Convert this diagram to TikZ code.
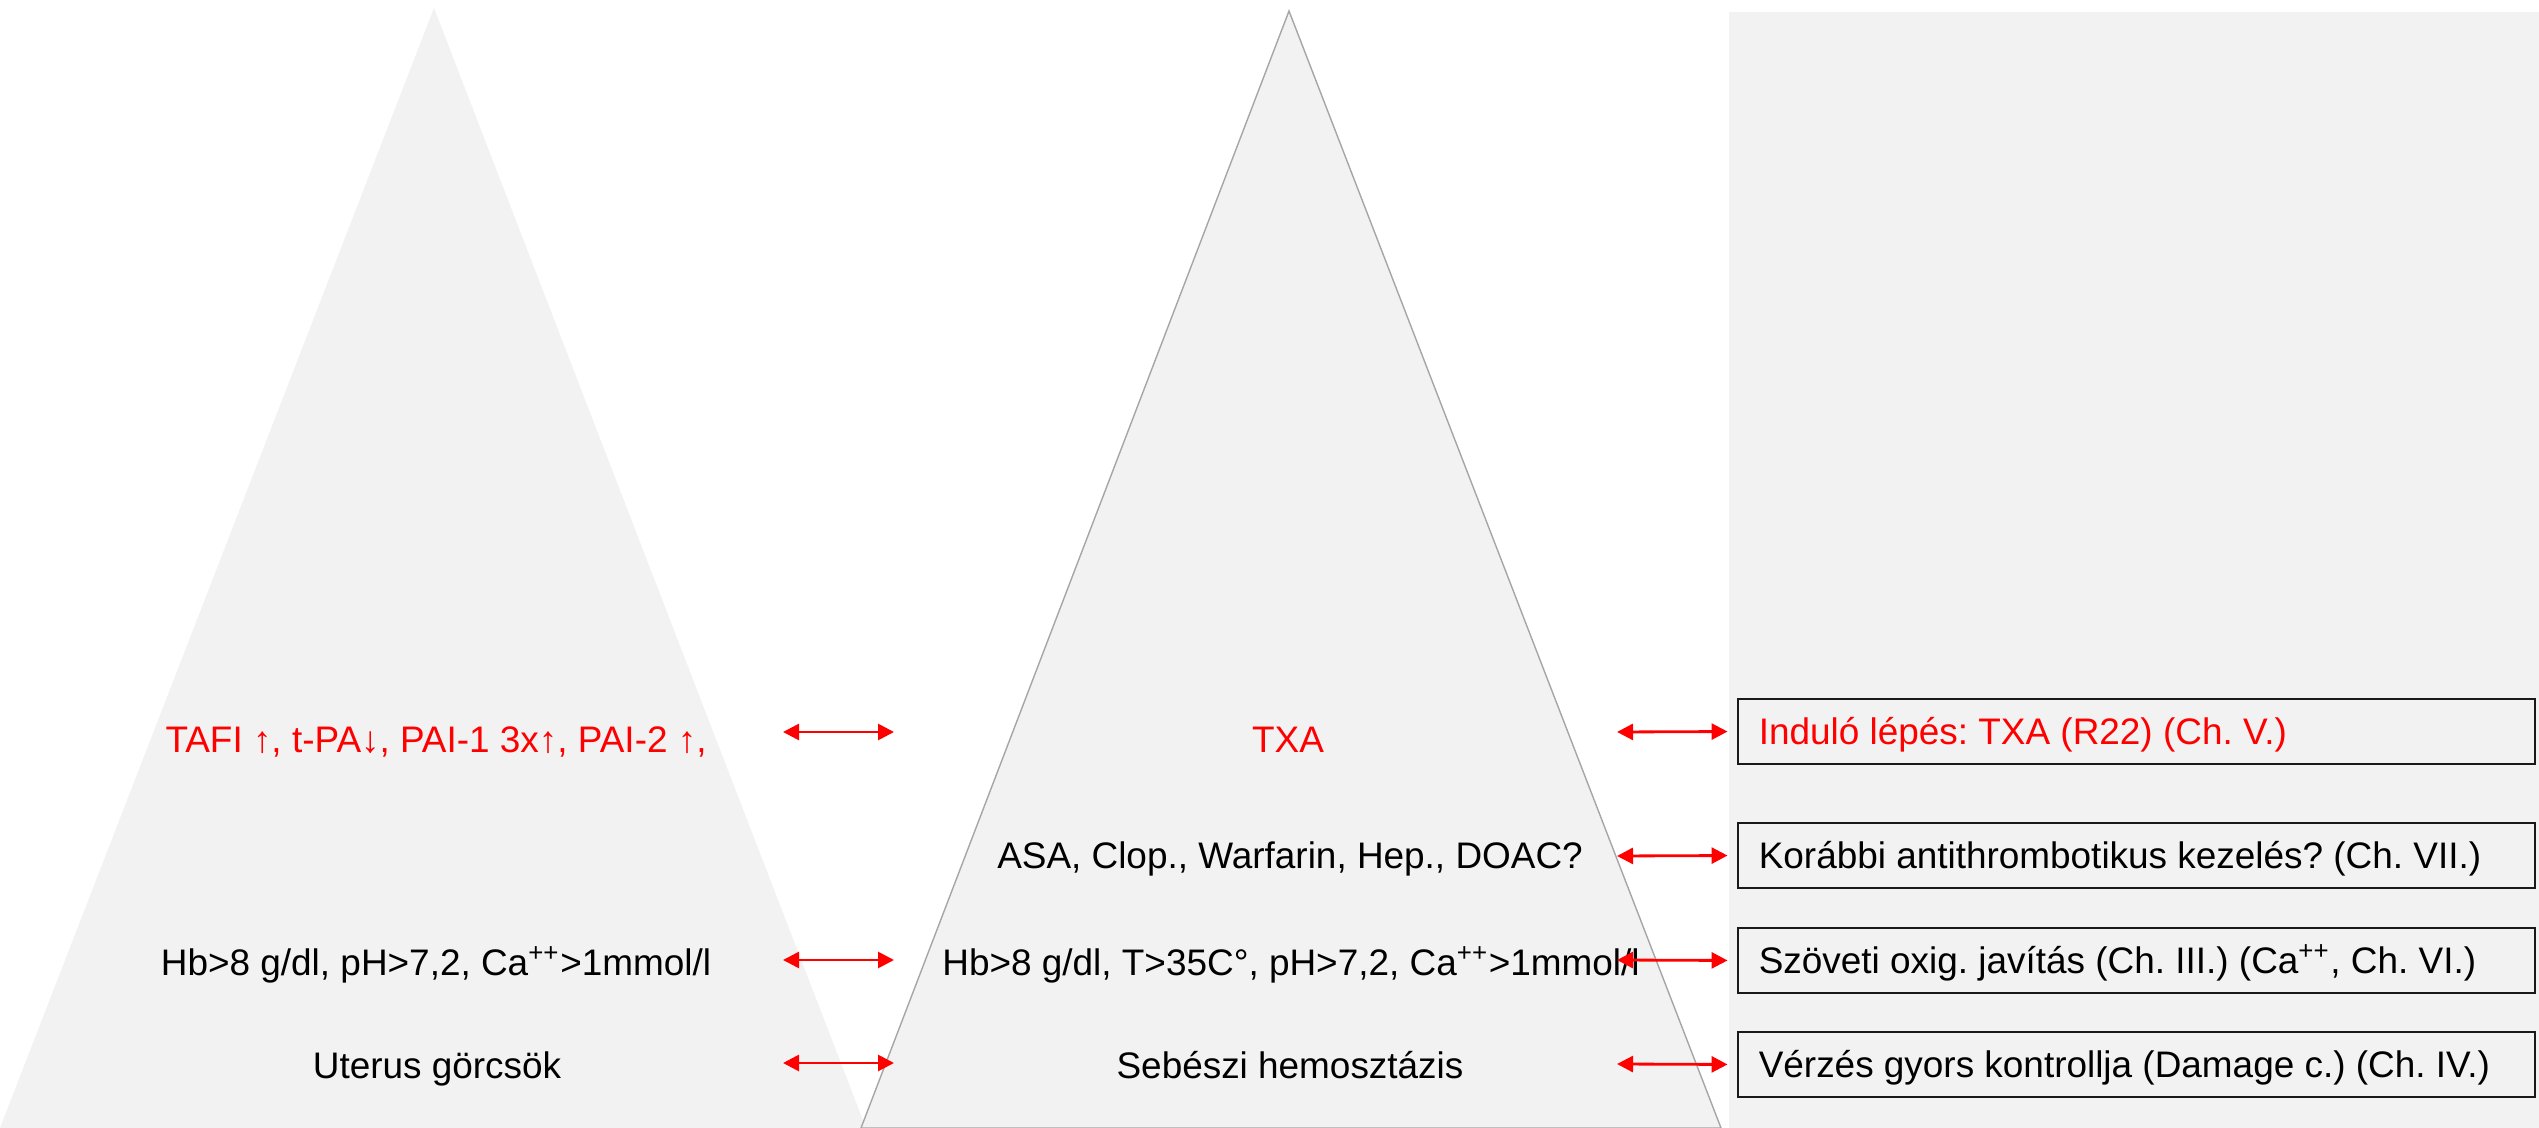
\documentclass[tikz,border=0pt]{standalone}
\usepackage{fontspec}
\setmainfont{Liberation Sans}
\usetikzlibrary{arrows.meta}
\definecolor{panel}{HTML}{F2F2F2}
\definecolor{edgegray}{HTML}{A6A6A6}
\definecolor{alarm}{HTML}{FF0000}
\newcommand{\boxline}[1]{\makebox[7.55cm][l]{#1}}
\begin{document}
\frenchspacing
\begin{tikzpicture}[x=0.01cm,y=-0.01cm,
  lbl/.style={anchor=base, inner sep=0pt, font=\fontsize{10.5}{12.6}\selectfont},
  hot/.style={text=alarm},
  stepbox/.style={draw=black!90, line width=0.7pt, minimum width=7.97cm,
    minimum height=0.65cm, inner xsep=0.21cm,
    inner ysep=0pt, text height=0.265cm, text depth=0cm,
    font=\fontsize{10.5}{12.6}\selectfont},
  link/.style={alarm, line width=0.8pt,
    {Triangle[length=0.16cm,width=0.16cm]}-{Triangle[length=0.16cm,width=0.16cm]}}
]
\useasboundingbox (0,0) rectangle (2539,1128);

% background panels
\fill[panel] (1729,12) rectangle (2539,1128);
\fill[panel] (434,8) -- (866,1128) -- (0,1128) -- cycle;
\filldraw[fill=panel, draw=edgegray, line width=0.4pt]
  (1289,11) -- (1721,1128) -- (861,1128) -- cycle;

% left pyramid
\node[lbl,hot] (tafi) at (436,752) {TAFI ↑, t-PA↓, PAI-1 3x↑, PAI-2 ↑,};
\node[lbl] (hbl) at (436,975) {Hb>8 g/dl, pH>7,2, Ca\textsuperscript{++}>1mmol/l};
\node[lbl] (uter) at (437,1078) {Uterus görcsök};

% middle pyramid
\node[lbl,hot] (txa) at (1288,752) {TXA};
\node[lbl] (asa) at (1290,868) {ASA, Clop., Warfarin, Hep., DOAC?};
\node[lbl] (hbm) at (1291,975) {Hb>8 g/dl, T>35C°, pH>7,2, Ca\textsuperscript{++}>1mmol/l};
\node[lbl] (seb) at (1290,1078) {Sebészi hemosztázis};

% action boxes
\node[stepbox,hot] (box1) at (2136.5,731.5) {\boxline{Induló lépés: TXA (R22) (Ch. V.)}};
\node[stepbox] (box2) at (2136.5,855.5) {\boxline{Korábbi antithrombotikus kezelés? (Ch. VII.)}};
\node[stepbox] (box3) at (2136.5,960.5) {\boxline{Szöveti oxig. javítás (Ch. III.) (Ca\textsuperscript{++}, Ch. VI.)}};
\node[stepbox] (box4) at (2136.5,1064.5) {\boxline{Vérzés gyors kontrollja (Damage c.) (Ch. IV.)}};

% arrow end points
\coordinate (l1a) at (783,732);  \coordinate (l1b) at (894,732);
\coordinate (l3a) at (783,960);  \coordinate (l3b) at (894,960);
\coordinate (l4a) at (783,1063); \coordinate (l4b) at (894,1063);
\coordinate (m1) at (1617,732);
\coordinate (m2) at (1617,856);
\coordinate (m3) at (1617,960);
\coordinate (m4) at (1617,1064);

% connectors
\draw[link] (l1a) -- (l1b);
\draw[link] (l3a) -- (l3b);
\draw[link] (l4a) -- (l4b);
\draw[link, shorten >=0.09cm] (m1) -- (box1.west);
\draw[link, shorten >=0.09cm] (m2) -- (box2.west);
\draw[link, shorten >=0.09cm] (m3) -- (box3.west);
\draw[link, shorten >=0.09cm] (m4) -- (box4.west);
\end{tikzpicture}
\end{document}
